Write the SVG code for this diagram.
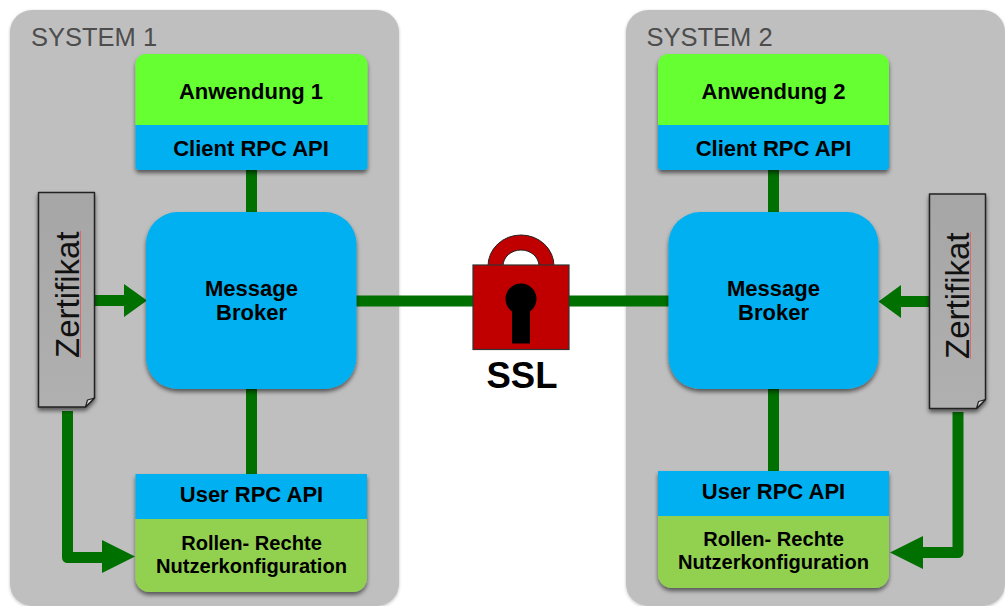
<svg xmlns="http://www.w3.org/2000/svg" width="1005" height="606" viewBox="0 0 1005 606">
<style>
text{font-family:"Liberation Sans",Arial,sans-serif;text-anchor:middle;fill:#000}
.b{font-weight:700}
.t1{font-size:22px}
.t2{font-size:20.1px}
.sys{font-size:25.500px;fill:#4d4d4d;text-anchor:start}
.z{font-size:33px;fill:#111;text-anchor:start}
.panel{fill:#bfbfbf}
.blue{fill:#00b0f0}
.app{fill:#66ff33}
.cfg{fill:#92d050}
.doc{fill:url(#docfill);stroke:#222;stroke-width:1.5;stroke-linejoin:round}
.fold{fill:#d8d8d8;stroke:#222;stroke-width:1.2;stroke-linejoin:round}
.squig{stroke:#e06868;stroke-width:1;fill:none}
.c{fill:none;stroke:#007000;stroke-width:11;stroke-linejoin:round}
.h{fill:#007000}
</style>
<defs>
<linearGradient id="docfill" x1="0" y1="0" x2="0" y2="1"><stop offset="0" stop-color="#a6a6a6"/><stop offset="1" stop-color="#b0b0b0"/></linearGradient>
<filter id="s" x="-10%" y="-10%" width="120%" height="120%"><feDropShadow dx="0" dy="3" stdDeviation="2" flood-color="#000" flood-opacity=".55"/></filter>
<filter id="sp" x="-5%" y="-5%" width="110%" height="110%"><feDropShadow dx="0" dy="1" stdDeviation="1.500" flood-color="#000" flood-opacity=".25"/></filter>
</defs>
<rect width="1005" height="606" fill="#fff"/>
<g id="system1"><rect class="panel" x="10" y="10" width="389" height="596" rx="22" filter="url(#sp)"/><text class="sys" x="31" y="46">SYSTEM 1</text></g>
<g id="system2"><rect class="panel" x="626" y="10" width="379" height="596" rx="22" filter="url(#sp)"/><text class="sys" x="646.500" y="46">SYSTEM 2</text></g>
<g id="connectors">
<path class="c" d="M251.500 170V212M251.500 389V474M773.500 170V212M773.500 389V471M356 301H669"/>
<path class="c" d="M67.500 411V557.500H103"/>
<path class="c" d="M958 412V552.500H923"/>
<path class="h" d="M95 295H124V284L147 300.500L124 317V306H95Z"/>
<path class="h" d="M929 296H901V285L878.500 301.500L901 318V307H929Z"/>
<path class="h" d="M102 540L135 556.500L102 573Z"/>
<path class="h" d="M923 536L890 552.500L923 569Z"/>
</g>
<g id="anwendung1" filter="url(#s)"><path class="app" d="M135.500 125V64a10 10 0 0 1 10-10H357.500a10 10 0 0 1 10 10V125Z"/><path class="blue" d="M135.500 125H367.500V166a4 4 0 0 1-4 4H139.500a4 4 0 0 1-4-4Z"/></g>
<g id="anwendung1-text"><text class="b t1" x="251" y="98.500">Anwendung 1</text><text class="b t1" x="251" y="155.500">Client RPC API</text></g>
<g id="anwendung2" filter="url(#s)"><path class="app" d="M658 125V64a10 10 0 0 1 10-10H879a10 10 0 0 1 10 10V125Z"/><path class="blue" d="M658 125H889V166a4 4 0 0 1-4 4H662a4 4 0 0 1-4-4Z"/></g>
<g id="anwendung2-text"><text class="b t1" x="773.500" y="98.500">Anwendung 2</text><text class="b t1" x="773.500" y="155.500">Client RPC API</text></g>
<g id="broker1"><rect class="blue" x="146" y="212" width="210.500" height="177" rx="32" filter="url(#s)"/><text class="b t1" x="251.500" y="295.500">Message</text><text class="b t1" x="251.500" y="320">Broker</text></g>
<g id="broker2"><rect class="blue" x="668.500" y="212" width="210" height="177" rx="32" filter="url(#s)"/><text class="b t1" x="773.500" y="295.500">Message</text><text class="b t1" x="773.500" y="320">Broker</text></g>
<g id="user1" filter="url(#s)"><path class="blue" d="M135.500 474H367V519H135.500Z"/><path class="cfg" d="M135.500 519H367V578a14 14 0 0 1-14 14H149.500a14 14 0 0 1-14-14Z"/></g>
<g id="user1-text"><text class="b t1" x="251.500" y="502">User RPC API</text><text class="b t2" x="251.500" y="550">Rollen- Rechte</text><text class="b t2" x="251.500" y="572.500">Nutzerkonfiguration</text></g>
<g id="user2" filter="url(#s)"><path class="blue" d="M658 471H889V516H658Z"/><path class="cfg" d="M658 516H889V574a14 14 0 0 1-14 14H672a14 14 0 0 1-14-14Z"/></g>
<g id="user2-text"><text class="b t1" x="773.500" y="499">User RPC API</text><text class="b t2" x="773.500" y="546">Rollen- Rechte</text><text class="b t2" x="773.500" y="568.500">Nutzerkonfiguration</text></g>
<g id="zertifikat1"><path class="doc" filter="url(#s)" d="M38.500 192.500H94.500V398L85.500 407H38.500Z"/><path class="fold" d="M94.500 398L87.500 400L85.500 407Z"/><text class="z" transform="translate(79 358) rotate(-90)">Zertifikat</text><path class="squig" d="M80.500 358V231"/></g>
<g id="zertifikat2"><path class="doc" filter="url(#s)" d="M929.500 194H985.500V399.500L976.500 408.500H929.500Z"/><path class="fold" d="M985.500 399.500L978.500 401.500L976.500 408.500Z"/><text class="z" transform="translate(969 359) rotate(-90)">Zertifikat</text><path class="squig" d="M970.500 359V232"/></g>
<g id="ssl">
<path d="M488 266A33 31 0 0 1 554 266H539A18 16 0 0 0 503 266Z" fill="#c00000" stroke="#222" stroke-width="1"/>
<rect x="473" y="265" width="96" height="84.500" fill="#c00000" stroke="#333" stroke-width="1.200"/>
<path d="M512 343.500V311.500A15.500 15.500 0 1 1 530 311.500V343.500Z" fill="#000"/>
<text class="b" x="522" y="388" font-size="36.500">SSL</text>
</g>
</svg>
